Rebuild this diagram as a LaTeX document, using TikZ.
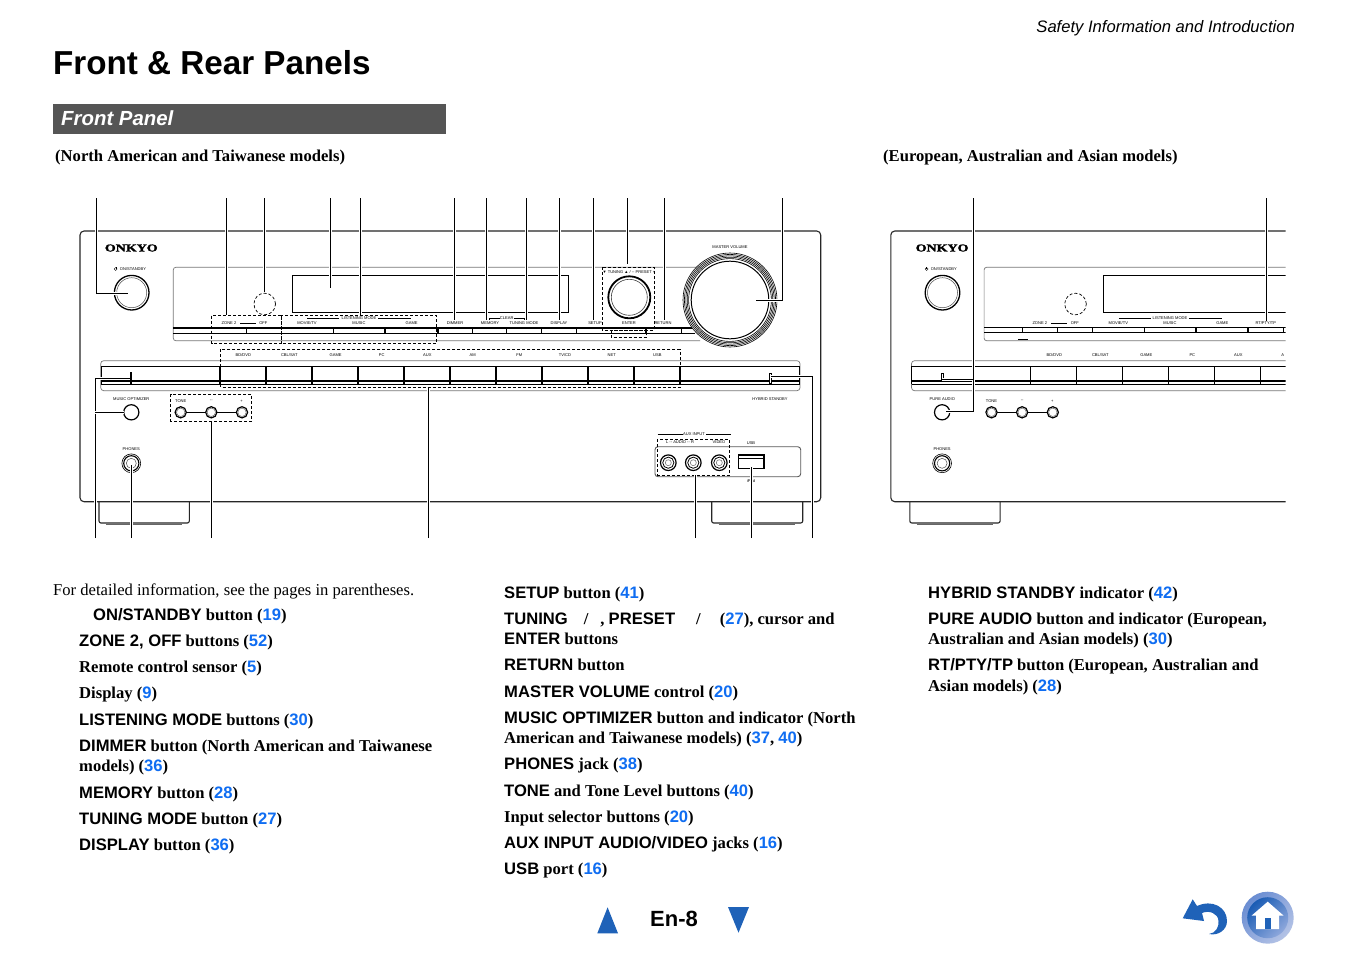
\documentclass[tikz,border=0pt]{standalone}
\usepackage{fontspec}
\setmainfont{Liberation Serif}
\newfontfamily\arfont{Liberation Sans}
\newfontfamily\onkfont[FakeBold=1.6]{Liberation Serif Bold}
\definecolor{linkblue}{HTML}{0F6DF2}
\definecolor{navblue}{HTML}{1F62B8}
\definecolor{bandgray}{HTML}{555555}
\definecolor{soft}{HTML}{777777}
\definecolor{ringa}{HTML}{6A8DD2}
\definecolor{ringb}{HTML}{B4C3E6}
\definecolor{innera}{HTML}{1A5CB4}
\definecolor{innerb}{HTML}{8FA8DC}
\newcounter{tn}
\newcommand{\T}[3][]{\stepcounter{tn}\node[anchor=base west,inner sep=0pt,#1] (t\arabic{tn}) at (#2) {#3};}
\newcommand{\M}[3][]{\stepcounter{tn}\node[anchor=center,inner sep=0pt,font=\arfont\fontsize{4.05}{4.5}\selectfont,text=black,#1] (t\arabic{tn}) at (#2) {#3};}
\newcommand{\A}[1]{{\arfont\bfseries #1}}
\newcommand{\PG}[1]{{\arfont\bfseries\color{linkblue}#1}}
\newcommand{\lead}[1]{\draw[halo] #1; \draw[leader] #1;}
\newcommand{\E}[3]{\T[font=\fontsize{16.6}{20}\selectfont\bfseries]{#1,#2}{#3}}
\newcommand{\commonpanel}{%
  % feet
  \draw[line width=1.1pt,draw=black!85,rounded corners=2pt] (99,501.7) -- (99,523) -- (189.3,523) -- (189.3,501.7);
  \draw[line width=.6pt,draw=black!60] (106,524.6) -- (182,524.6);
  \draw[line width=1.1pt,draw=black!85,rounded corners=2pt] (711.7,501.7) -- (711.7,523) -- (802.7,523) -- (802.7,501.7);
  \draw[line width=.6pt,draw=black!60] (719,524.6) -- (795,524.6);
  % body
  \draw[bodyline,rounded corners=4pt,fill=white] (80,231) rectangle (820.7,501.7);
  \T[font=\onkfont\fontsize{10.5}{11}\selectfont,xscale=1.33,anchor=center]{131.3,248}{ONKYO}
  \M{133,269}{ON/STANDBY}
  \draw[line width=.35pt] (115.7,269) circle (1.5pt);
  \draw[line width=.35pt] (115.7,267) -- (115.7,269);
  \draw[line width=1.3pt] (131.7,292.7) circle (17.3pt);
  \draw[line width=.5pt,draw=black!70] (131.7,292.7) circle (15pt);
  \draw[line width=.7pt,dash pattern=on 3pt off 2pt] (264.7,304) circle (10.8pt);
  \draw[softline,rounded corners=2.5pt] (700,267.3) -- (173.3,267.3) -- (173.3,340.7) -- (700,340.7);
  % front strip
  \draw[softline,rounded corners=3pt] (100.7,360.7) rectangle (800,390.7);
  \draw[line width=.9pt] (101,366) -- (799.5,366);
  \draw[line width=1.5pt] (101,381) -- (799.5,381);
  \draw[line width=.5pt] (101,384) -- (799.5,384);
  \foreach \xx in {220,266,312,358,404,450,496,542,588,634,680} \draw[line width=1.1pt] (\xx,366) -- (\xx,384);
  \draw[line width=.9pt] (101,366) -- (101,384) (799.5,366) -- (799.5,384);
  % tone
  \draw[line width=.8pt] (180.7,412.3) -- (242,412.3);
  \foreach \xx in {180.7,211.3,242} {\draw[line width=1.2pt,fill=white] (\xx,412.3) circle (5.6pt); \draw[line width=.5pt,draw=black!60] (\xx,412.3) circle (4.2pt);}
  \M{211.3,401.3}{--} \M{241.5,401.3}{+}
  % phones
  \M{131.3,449}{PHONES}
  \draw[line width=.6pt] (131.3,463.3) circle (9.4pt);
  \draw[line width=1.1pt] (131.3,463.3) circle (7.6pt);
  \draw[line width=.5pt,draw=black!70] (131.3,463.3) circle (5pt);
  \draw[line width=1.2pt] (131.3,412.3) circle (7.6pt);
}
\tikzset{
  bodyline/.style={line width=1.1pt,draw=black!85},
  softline/.style={line width=.7pt,draw=soft},
  dashbox/.style={line width=.7pt,dash pattern=on 3pt off 2pt},
  leader/.style={line width=.9pt,draw=black},
  halo/.style={line width=3pt,draw=white},
}
\begin{document}
\begin{tikzpicture}[x=1pt,y=-1pt]
\useasboundingbox (0,0) rectangle (1348,954);
\fill[white] (0,0) rectangle (1348,954);
% header
\T[font=\arfont\itshape\fontsize{16.6}{20}\selectfont,anchor=base east]{1295,32}{Safety Information and Introduction}
\T[font=\arfont\bfseries\fontsize{33.2}{36}\selectfont]{53,74.5}{Front \& Rear Panels}
\fill[bandgray] (53,104) rectangle (446,134);
\T[font=\arfont\bfseries\itshape\fontsize{20.4}{24}\selectfont,text=white]{61,125}{Front Panel}
\T[font=\fontsize{16.6}{20}\selectfont\bfseries]{55,161}{(North American and Taiwanese models)}
\T[font=\fontsize{16.6}{20}\selectfont\bfseries]{883,161}{(European, Australian and Asian models)}
% LEFT PANEL
\commonpanel
\M{131.3,399}{MUSIC OPTIMIZER}
\M{180.7,401.3}{TONE}
\draw[line width=.9pt] (292.3,275) rectangle (568.3,312.3);
\draw[line width=1.5pt] (173.3,328) -- (695,328);
\draw[line width=1.5pt] (173.3,333.3) -- (695,333.3);
\foreach \xx in {246.7,333.3,385,438,472.3,506.7,541.7,576.7,646,681.7} \draw[line width=1.1pt] (\xx,328) -- (\xx,333.3);
% knobs
\draw[line width=1.8pt,fill=white] (629.3,297.3) circle (21pt);
\draw[line width=.6pt,draw=black!75] (629.3,297.3) circle (18pt);
\foreach \rr in {47,45.6,44.2,42.8,41.4} \draw[line width=.6pt,draw=black,fill=white] (730,300) circle (\rr pt);
\draw[line width=1pt,fill=white] (730,300) circle (38.8pt);
% labels
\foreach \xx/\yy in {243.3/BD\slash DVD,289.3/CBL\slash SAT,335.7/GAME,381.7/PC,427.3/AUX,472.7/AM,519.3/FM,565/TV\slash CD,611.7/NET,657.3/USB} \M{\xx,354.7}{\yy};
\foreach \xx/\yy in {229/ZONE 2,263.3/OFF,307/MOVIE\slash TV,359/MUSIC,411.7/GAME,455/DIMMER,490/MEMORY,524/TUNING MODE,559/DISPLAY,595/SETUP,629/ENTER,663/RETURN} \M{\xx,323.3}{\yy};
\M{359,318.3}{LISTENING MODE}
\M{506.7,318.3}{CLEAR}
\M{730,247}{MASTER VOLUME}
\M{629,272}{▼ TUNING ▲ / -- PRESET +}
\M{770,399}{HYBRID STANDBY}
\draw[line width=.5pt] (240,323.3) -- (256,323.3);
\draw[line width=.5pt] (307,318.3) -- (339,318.3) (378,318.3) -- (411,318.3);
\draw[line width=.4pt] (489,320) -- (489,318.3) -- (500,318.3) (514,318.3) -- (524,318.3) -- (524,320);
% AUX / USB
\draw[line width=.9pt,draw=black!65,rounded corners=3pt] (655,476.7) -- (655,446.7) -- (800.7,446.7) -- (800.7,476.7) -- cycle;
\draw[line width=1.1pt] (738.3,455) rectangle (764,468.3);
\draw[line width=.7pt] (738.3,458.3) -- (764,458.3);
\foreach \xx in {668.3,693.3,719.3} {\draw[line width=1.2pt] (\xx,462.7) circle (7.8pt); \draw[line width=.8pt] (\xx,462.7) circle (5.6pt); \draw[line width=.5pt,draw=black!60] (\xx,462.7) circle (3pt);}
\M{694,434.3}{AUX INPUT}
\draw[line width=.5pt] (657.5,434.3) -- (683,434.3) (706,434.3) -- (731,434.3);
\M{680,442}{L -- AUDIO -- R}
\M{719,442}{VIDEO}
\M{751,443.5}{USB}
\M{751,481.5}{iPod}
% dashed groups
\draw[dashbox] (211.7,315.7) rectangle (281,343.3);
\draw[dashbox] (281,315.7) rectangle (436.7,343.3);
\draw[dashbox] (602.3,267.3) rectangle (654,330);
\draw[dashbox] (611,330) rectangle (646.7,337.3);
\draw[dashbox] (220.7,349.3) rectangle (680,387.3);
\draw[dashbox] (170.7,394.3) rectangle (251.7,421);
\draw[dashbox] (657.3,439.3) rectangle (729.3,475);
% indicators
\draw[line width=1pt,fill=black] (130,372.5) rectangle (131.6,384);
\draw[line width=.5pt,fill=white] (768.8,373) rectangle (770.8,383);
% leaders left, top
\lead{(96.5,198) -- (96.5,293) -- (128,293)}
\lead{(226.7,198) -- (226.7,315)}
\lead{(264.5,198) -- (264.5,291.7)}
\lead{(330.3,198) -- (330.3,288)}
\lead{(360.3,198) -- (360.3,315)}
\foreach \xx in {454.3,486.3,526.3,559.5,593.3,664.3} {\lead{(\xx,198) -- (\xx,320)}}
\lead{(627.3,198) -- (627.3,264)}
\lead{(782.7,198) -- (782.7,300) -- (756,300)}
% leaders left, bottom
\lead{(95,538) -- (95,378.3) -- (130,378.3)}
\lead{(95,412.7) -- (123.5,412.7)}
\lead{(131.7,538) -- (131.7,465)}
\lead{(211.7,538) -- (211.7,421.7)}
\lead{(428.3,538) -- (428.3,387.5)}
\lead{(695,538) -- (695,475)}
\lead{(751.7,538) -- (751.7,466.7)}
\lead{(812.3,538) -- (812.3,376) -- (770.8,376)}
% RIGHT PANEL
\begin{scope}
\clip (880,190) rectangle (1285.5,545);
\begin{scope}[xshift=810.8pt]
\commonpanel
\M{131.5,399}{PURE AUDIO}
\M{180.7,401.3}{TONE}
\draw[line width=.9pt] (292.5,275) -- (520,275) (292.5,275) -- (292.5,312.3) -- (520,312.3);
\draw[line width=1.5pt] (173.3,327.5) -- (520,327.5);
\draw[line width=.9pt] (173.3,332.8) -- (520,332.8);
\foreach \xx in {211.9,246.9,281.5,333.5,385.2,437.2,472.5} \draw[line width=1.1pt] (\xx,327.5) -- (\xx,332.8);
\draw[line width=.8pt] (207,339.3) -- (217,339.3);
\foreach \xx/\yy in {243.5/BD\slash DVD,289.5/CBL\slash SAT,335.5/GAME,381.5/PC,427.5/AUX,472/A} \M{\xx,354.7}{\yy};
\foreach \xx/\yy in {229/ZONE 2,264/OFF,307.5/MOVIE\slash TV,359.2/MUSIC,411.5/GAME,455/RT\slash PTY\slash TP} \M{\xx,323.3}{\yy};
\M{359.2,318.3}{LISTENING MODE}
\draw[line width=.5pt] (240,323.3) -- (256,323.3);
\draw[line width=.5pt] (308,318.3) -- (340,318.3) (378,318.3) -- (411,318.3);
\draw[line width=.5pt,fill=white] (130,373) rectangle (132,380);
\end{scope}
\end{scope}
\lead{(973,198) -- (973,411.7) -- (945.7,411.7)}
\lead{(973,379) -- (942.3,379)}
\lead{(1266.7,198) -- (1266.7,320.7)}
% TEXT col 1
\T[font=\fontsize{16.6}{20}\selectfont]{53,595}{For detailed information, see the pages in parentheses.}
\E{93}{620}{\A{ON/STANDBY} button (\PG{19})}
\E{79}{646}{\A{ZONE 2, OFF} buttons (\PG{52})}
\E{79}{672}{Remote control sensor (\PG{5})}
\E{79}{698}{Display (\PG{9})}
\E{79}{725}{\A{LISTENING MODE} buttons (\PG{30})}
\E{79}{751}{\A{DIMMER} button (North American and Taiwanese}
\E{79}{771}{models) (\PG{36})}
\E{79}{798}{\A{MEMORY} button (\PG{28})}
\E{79}{824}{\A{TUNING MODE} button (\PG{27})}
\E{79}{850}{\A{DISPLAY} button (\PG{36})}
% col 2
\E{504}{598}{\A{SETUP} button (\PG{41})}
\E{504}{624}{\A{TUNING}\hspace{16pt}/\hspace{12pt}, \A{PRESET}\hspace{21pt}/\hspace{19pt}(\PG{27}), cursor and}
\E{504}{644}{\A{ENTER} buttons}
\E{504}{670}{\A{RETURN} button}
\E{504}{697}{\A{MASTER VOLUME} control (\PG{20})}
\E{504}{723}{\A{MUSIC OPTIMIZER} button and indicator (North}
\E{504}{743}{American and Taiwanese models) (\PG{37}, \PG{40})}
\E{504}{769}{\A{PHONES} jack (\PG{38})}
\E{504}{796}{\A{TONE} and Tone Level buttons (\PG{40})}
\E{504}{822}{Input selector buttons (\PG{20})}
\E{504}{848}{\A{AUX INPUT AUDIO/VIDEO} jacks (\PG{16})}
\E{504}{874}{\A{USB} port (\PG{16})}
% col 3
\E{928}{598}{\A{HYBRID STANDBY} indicator (\PG{42})}
\E{928}{624}{\A{PURE AUDIO} button and indicator (European,}
\E{928}{644}{Australian and Asian models) (\PG{30})}
\E{928}{670}{\A{RT/PTY/TP} button (European, Australian and}
\E{928}{691}{Asian models) (\PG{28})}
% footer
\T[font=\arfont\bfseries\fontsize{22}{26}\selectfont,anchor=base]{674,926}{En-8}
\fill[navblue] (597.3,933.3) -- (607.6,907.3) -- (618,933.3) -- cycle;
\fill[navblue] (728,907) -- (749,907) -- (738.5,932.7) -- cycle;
% back arrow
\fill[navblue] (1182.7,918.3) -- (1192.7,899.3) -- (1197,906) .. controls (1212,899) and (1227,907) .. (1227,921) .. controls (1227,930) and (1218,936) .. (1209,934) .. controls (1216,933) and (1219,927) .. (1218.5,921) .. controls (1218,913) and (1209,910) .. (1202,913) -- (1204,921) -- cycle;
% home
\shade[top color=ringa,bottom color=ringb,shading angle=45] (1267.7,917.7) circle (26pt);
\shade[top color=innera,bottom color=innerb,shading angle=45] (1267.7,917.7) circle (20.5pt);
\fill[white] (1267.7,901.7) -- (1283.5,915.5) -- (1279,915.5) -- (1279,929) -- (1256,929) -- (1256,915.5) -- (1251.7,915.5) -- cycle;
\fill[navblue] (1265,918) rectangle (1270.7,929);
\end{tikzpicture}
\end{document}
